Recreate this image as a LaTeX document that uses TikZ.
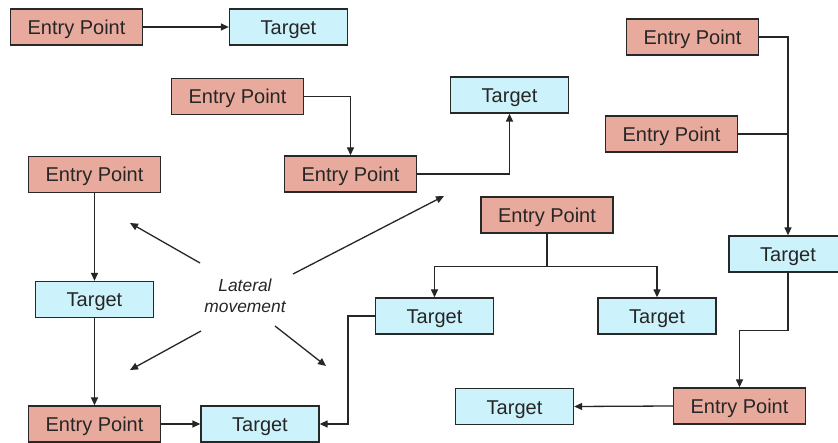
\documentclass[tikz,border=0pt]{standalone}
\usepackage{fontspec}
\setmainfont{Liberation Sans}
\usetikzlibrary{arrows.meta,positioning}
\definecolor{entryfill}{RGB}{232,170,156}
\definecolor{targetfill}{RGB}{204,242,252}
\definecolor{edgecol}{RGB}{40,40,40}
\tikzset{
  box/.style={draw=edgecol, line width=1.3pt, minimum height=36pt, inner sep=0pt,
    text height=15pt, text depth=0pt,
    font=\fontsize{20}{24}\selectfont, text=black!85},
  entry/.style={box, fill=entryfill, minimum width=132pt},
  target/.style={box, fill=targetfill, minimum width=118pt},
  link/.style={draw=black!85, line width=1.3pt, -{Triangle[length=8pt,width=7pt]}},
  plain/.style={draw=black!85, line width=1.3pt},
  lat/.style={align=center, font=\fontsize{17.4}{21}\selectfont\itshape, text=black!85}
}
\begin{document}
\begin{tikzpicture}[x=1pt,y=-1pt]
\clip (0,0) rectangle (838,443);
\fill[white] (0,0) rectangle (838,443);

% top-left pair
\node[entry]  (e1) at (76.5,27) {Entry Point};
\node[target] (t1) at (288.5,27) {Target};

% upper middle chain
\node[entry]  (e2) at (237.5,96.5) {Entry Point};
\node[entry]  (e3) at (350.5,174) {Entry Point};
\node[target] (t2) at (509.5,95) {Target};

% right column
\node[entry]  (e4) at (692.5,37) {Entry Point};
\node[entry]  (e5) at (671.5,134) {Entry Point};
\node[target] (t3) at (788,254) {Target};
\node[entry]  (e9) at (739.5,406) {Entry Point};
\node[target] (t8) at (514.5,406.5) {Target};

% left column
\node[entry]  (e6) at (94.5,174.5) {Entry Point};
\node[target] (t4) at (94.5,299.5) {Target};
\node[entry]  (e7) at (94.5,424) {Entry Point};
\node[target] (t5) at (260,424) {Target};

% centre branch
\node[entry]  (e8) at (547,215) {Entry Point};
\node[target] (t6) at (434.5,316) {Target};
\node[target] (t7) at (657,316) {Target};

% lateral movement label and its arrows
\node[lat] (lm) at (245,296) {Lateral\\movement};
\coordinate (ulS) at (200,263); \coordinate (ulE) at (130,223);
\coordinate (urS) at (293,274); \coordinate (urE) at (444,196);
\coordinate (llS) at (201,331); \coordinate (llE) at (130,370);
\coordinate (lrS) at (275,326); \coordinate (lrE) at (326,366);
\draw[link] (ulS) -- (ulE);
\draw[link] (urS) -- (urE);
\draw[link] (llS) -- (llE);
\draw[link] (lrS) -- (lrE);

% connectors
\draw[link] (e1.east) -- (t1.west);
\draw[link] (e2.east) -| (e3.north);
\draw[link] (e3.east) -| (t2.south);
\draw[link] (e4.east) -| (t3.north);
\draw[plain] (e5.east) -- (e5.east -| t3.north);
\draw[link] (t3.south) -- ++(0,58) -| (e9.north);
\draw[link] (e9.west) -- (t8.east);
\draw[link] (e6.south) -- (t4.north);
\draw[link] (t4.south) -- (e7.north);
\draw[link] (e7.east) -- (t5.west);
\draw[link] (t6.west) -- ++(-27,0) |- (t5.east);
\draw[plain] (e8.south) -- ++(0,33) coordinate (split);
\draw[link] (split) -| (t6.north);
\draw[link] (split) -| (t7.north);
\end{tikzpicture}
\end{document}
